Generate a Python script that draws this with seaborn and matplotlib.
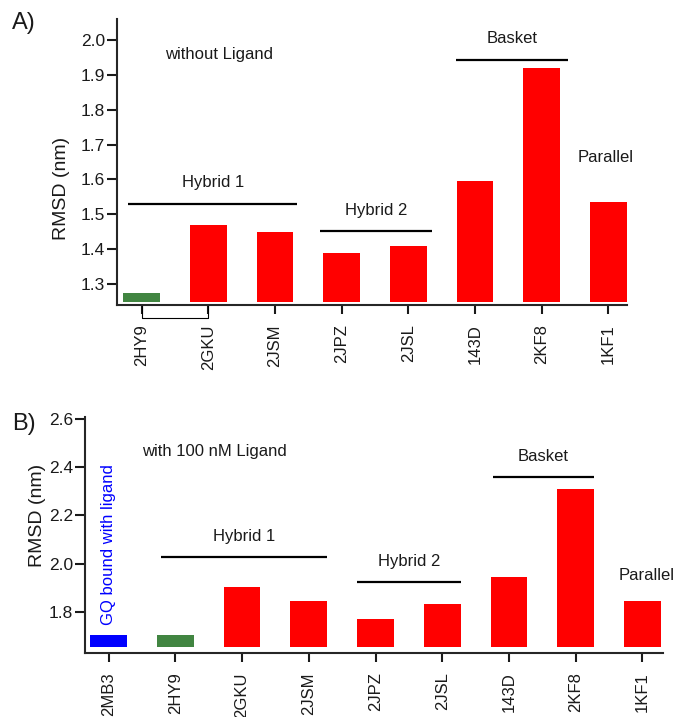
import matplotlib
matplotlib.use("Agg")
import matplotlib.pyplot as plt
import matplotlib.transforms as mtransforms
import numpy as np
import pandas as pd
import seaborn as sns

# ---- data -----------------------------------------------------------------
labels_a = ["2HY9", "2GKU", "2JSM", "2JPZ", "2JSL", "143D", "2KF8", "1KF1"]
rmsd_a = [1.275, 1.47, 1.45, 1.39, 1.41, 1.595, 1.92, 1.535]
colors_a = ["#418541", "#ff0000", "#ff0000", "#ff0000", "#ff0000",
            "#ff0000", "#ff0000", "#ff0000"]

labels_b = ["2MB3", "2HY9", "2GKU", "2JSM", "2JPZ", "2JSL", "143D", "2KF8", "1KF1"]
rmsd_b = [1.705, 1.705, 1.905, 1.845, 1.77, 1.835, 1.945, 2.31, 1.845]
colors_b = ["#0000ff", "#418541", "#ff0000", "#ff0000", "#ff0000",
            "#ff0000", "#ff0000", "#ff0000", "#ff0000"]

yticks_a = [1.3, 1.4, 1.5, 1.6, 1.7, 1.8, 1.9, 2.0]
yticks_b = [1.8, 2.0, 2.2, 2.4, 2.6]

# ---- style ----------------------------------------------------------------
sns.set_theme(style="ticks")
plt.rcParams["font.family"] = ["Liberation Sans", "DejaVu Sans"]
plt.rcParams["axes.linewidth"] = 1.5
plt.rcParams["xtick.major.width"] = 1.5
plt.rcParams["ytick.major.width"] = 1.5
plt.rcParams["text.color"] = "#1a1a1a"

W, H = 675, 717
fig = plt.figure(figsize=(W / 100, H / 100), dpi=100)


def px_axes(left, top, right, bottom):
    return fig.add_axes([left / W, 1 - bottom / H, (right - left) / W, (bottom - top) / H])


ax_a = px_axes(117, 19, 627, 305)
ax_b = px_axes(85, 417, 663, 653)


def draw_bars(ax, labels, values, colors, base, xlim, ylim, yticks):
    df = pd.DataFrame({"pdb": labels, "rmsd": values})
    sns.barplot(data=df, x="pdb", y="rmsd", hue="pdb", palette=colors,
                width=0.55, saturation=1, legend=False, ax=ax,
                edgecolor="none", linewidth=0)
    # bars rise from a common baseline slightly above the x axis
    for p in ax.patches:
        i = int(round(p.get_x() + p.get_width() / 2))
        p.set_y(base)
        p.set_height(values[i] - base)
    ax.set_xlim(*xlim)
    ax.set_ylim(*ylim)
    ax.set_yticks(yticks)
    ax.set_yticklabels([f"{t:.1f}" for t in yticks])
    ax.set_xlabel("")
    ax.set_ylabel("")
    sns.despine(ax=ax)
    ax.tick_params(axis="y", length=7.2, pad=1.5, labelsize=12.5, colors="#1a1a1a")
    ax.tick_params(axis="x", length=6.5, pad=7.5, labelsize=12,
                   labelrotation=90, colors="#1a1a1a")
    for lab in ax.get_xticklabels():
        lab.set_va("top")


def group(ax, x0, x1, y, text, ty):
    ax.plot([x0, x1], [y, y], color="black", lw=1.6, solid_capstyle="butt", clip_on=False)
    ax.text((x0 + x1) / 2, ty, text, ha="center", va="center", fontsize=12)


# ---- panel A: without ligand -------------------------------------------------
draw_bars(ax_a, labels_a, rmsd_a, colors_a, 1.25, (-0.37, 7.28), (1.24, 2.06), yticks_a)
ax_a.text(1.16, 1.959, "without Ligand", ha="center", va="center", fontsize=12)
group(ax_a, -0.2, 2.33, 1.531, "Hybrid 1", 1.59)
group(ax_a, 2.67, 4.36, 1.453, "Hybrid 2", 1.512)
group(ax_a, 4.71, 6.40, 1.943, "Basket", 2.005)
ax_a.text(6.96, 1.663, "Parallel", ha="center", va="center", fontsize=12)

# bracket joining the 2HY9 and 2GKU ticks
trans = mtransforms.blended_transform_factory(ax_a.transData, ax_a.transAxes)
yb = -12.5 / 286
ax_a.plot([0, 0, 1, 1], [0, yb, yb, 0], color="black", lw=0.8, transform=trans,
          clip_on=False)

# ---- panel B: with 100 nM ligand ---------------------------------------------
draw_bars(ax_b, labels_b, rmsd_b, colors_b, 1.655, (-0.355, 8.31), (1.631, 2.607), yticks_b)
ax_b.text(1.59, 2.466, "with 100 nM Ligand", ha="center", va="center", fontsize=12)
group(ax_b, 0.78, 3.28, 2.028, "Hybrid 1", 2.112)
group(ax_b, 3.72, 5.28, 1.926, "Hybrid 2", 2.009)
group(ax_b, 5.76, 7.28, 2.357, "Basket", 2.442)
ax_b.text(8.07, 1.952, "Parallel", ha="center", va="center", fontsize=12)
ax_b.text(0.0, 1.748, "GQ bound with ligand", rotation=90, ha="center", va="bottom",
          fontsize=12, color="#0000ff")

# ---- axis titles and panel letters ----------------------------------------
fig.text(62 / W, 1 - 188 / H, "RMSD (nm)", rotation=90, ha="center", va="center", fontsize=14)
fig.text(38 / W, 1 - 515 / H, "RMSD (nm)", rotation=90, ha="center", va="center", fontsize=14)
fig.text(24 / W, 1 - 23 / H, "A)", ha="center", va="center", fontsize=17)
fig.text(24 / W, 1 - 424 / H, "B)", ha="center", va="center", fontsize=17)

fig.savefig("out.png", dpi=100)
